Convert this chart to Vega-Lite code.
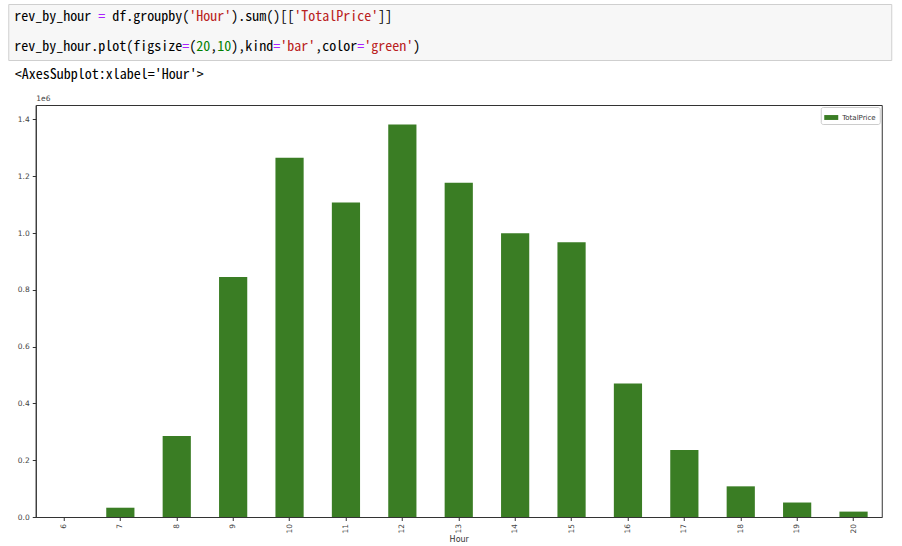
{
  "$schema": "https://vega.github.io/schema/vega-lite/v6.json",
  "background": "white",
  "padding": {"left": 7, "top": 3, "right": 2, "bottom": 2},
  "spacing": 6,
  "center": true,
  "config": {
    "font": "DejaVu Sans",
    "axis": {"domainColor": "#333333", "tickColor": "#333333", "grid": false}
  },
  "resolve": {"scale": {"color": "independent", "fill": "independent"}, "legend": {"color": "independent", "fill": "independent"}},
  "vconcat": [
    {
      "width": 883,
      "height": 56,
      "view": {"fill": "#f7f7f7", "stroke": "#cfcfcf"},
      "data": {"values": [
        {"line": "1", "col": 0, "text": "rev_by_hour", "kind": "plain"},
        {"line": "1", "col": 12, "text": "=", "kind": "op"},
        {"line": "1", "col": 14, "text": "df.groupby(", "kind": "plain"},
        {"line": "1", "col": 25, "text": "'Hour'", "kind": "str"},
        {"line": "1", "col": 31, "text": ").sum()[[", "kind": "plain"},
        {"line": "1", "col": 40, "text": "'TotalPrice'", "kind": "str"},
        {"line": "1", "col": 52, "text": "]]", "kind": "plain"},
        {"line": "2", "col": 0, "text": "rev_by_hour.plot(figsize", "kind": "plain"},
        {"line": "2", "col": 24, "text": "=", "kind": "op"},
        {"line": "2", "col": 25, "text": "(", "kind": "plain"},
        {"line": "2", "col": 26, "text": "20", "kind": "num"},
        {"line": "2", "col": 28, "text": ",", "kind": "plain"},
        {"line": "2", "col": 29, "text": "10", "kind": "num"},
        {"line": "2", "col": 31, "text": "),kind", "kind": "plain"},
        {"line": "2", "col": 37, "text": "=", "kind": "op"},
        {"line": "2", "col": 38, "text": "'bar'", "kind": "str"},
        {"line": "2", "col": 43, "text": ",color", "kind": "plain"},
        {"line": "2", "col": 49, "text": "=", "kind": "op"},
        {"line": "2", "col": 50, "text": "'green'", "kind": "str"},
        {"line": "2", "col": 57, "text": ")", "kind": "plain"}
      ]},
      "mark": {"type": "text", "align": "left", "baseline": "middle", "font": "Noto Sans Mono CJK KR", "fontSize": 14, "dx": 6},
      "encoding": {
        "x": {"field": "col", "type": "quantitative", "scale": {"domain": [0, 126.14], "nice": false, "zero": false}, "axis": null},
        "y": {"field": "line", "type": "ordinal", "scale": {"type": "point", "padding": 0.46},
              "axis": {"orient": "right", "labels": false, "ticks": false, "domain": false, "grid": false, "title": null, "minExtent": 18, "maxExtent": 18}},
        "text": {"field": "text"},
        "color": {"field": "kind", "type": "nominal", "scale": {"domain": ["plain", "op", "str", "num"], "range": ["#000000", "#aa22ff", "#ba2121", "#008000"]}, "legend": null}
      }
    },
    {
      "width": 846,
      "height": 412,
      "view": {"stroke": "#333333", "strokeWidth": 1},
      "title": {"text": "<AxesSubplot:xlabel='Hour'>", "anchor": "start", "frame": "bounds", "dx": 6, "font": "Noto Sans Mono CJK KR", "fontSize": 14, "fontWeight": "normal", "color": "#000000", "offset": 12},
      "data": {"values": [
        {"Hour": 6, "TotalPrice": 0},
        {"Hour": 7, "TotalPrice": 32700},
        {"Hour": 8, "TotalPrice": 285000},
        {"Hour": 9, "TotalPrice": 845000},
        {"Hour": 10, "TotalPrice": 1265000},
        {"Hour": 11, "TotalPrice": 1108000},
        {"Hour": 12, "TotalPrice": 1382000},
        {"Hour": 13, "TotalPrice": 1177000},
        {"Hour": 14, "TotalPrice": 999000},
        {"Hour": 15, "TotalPrice": 968000},
        {"Hour": 16, "TotalPrice": 470000},
        {"Hour": 17, "TotalPrice": 236000},
        {"Hour": 18, "TotalPrice": 108000},
        {"Hour": 19, "TotalPrice": 51000},
        {"Hour": 20, "TotalPrice": 19000}
      ]},
      "transform": [{"fold": ["TotalPrice"], "as": ["series", "value"]}],
      "mark": {"type": "bar"},
      "encoding": {
        "x": {
          "field": "Hour", "type": "ordinal",
          "scale": {"paddingInner": 0.5, "paddingOuter": 0.25},
          "axis": {"labelAngle": -90, "title": "Hour", "tickSize": 3.5, "labelFontSize": 7.5, "labelColor": "#444444", "labelPadding": 3, "titleFontSize": 8, "titleFontWeight": "normal", "titleColor": "#333333", "titlePadding": 2}
        },
        "y": {
          "field": "value", "type": "quantitative",
          "scale": {"domain": [0, 1451000], "nice": false},
          "axis": {
            "values": [0, 200000, 400000, 600000, 800000, 1000000, 1200000, 1400000],
            "labelExpr": "format(datum.value / 1000000, '.1f')",
            "tickSize": 3.5, "labelFontSize": 7.5, "labelColor": "#444444", "labelPadding": 3,
            "minExtent": 27, "maxExtent": 27,
            "title": "1e6", "titleAngle": 0, "titleX": 0, "titleY": -3, "titleAlign": "left", "titleBaseline": "bottom",
            "titleFontSize": 7.5, "titleFontWeight": "normal", "titleColor": "#444444"
          }
        },
        "fill": {
          "field": "series", "type": "nominal",
          "scale": {"range": ["#3a7d24"]},
          "legend": {"orient": "top-right", "title": null, "offset": 2, "fillColor": "white", "strokeColor": "#cccccc", "cornerRadius": 2, "padding": 3.5, "symbolType": "M-1,-0.35H1V0.35H-1Z", "symbolSize": 196, "symbolStrokeWidth": 0, "labelFontSize": 7, "labelColor": "#333333"}
        }
      }
    }
  ]
}
